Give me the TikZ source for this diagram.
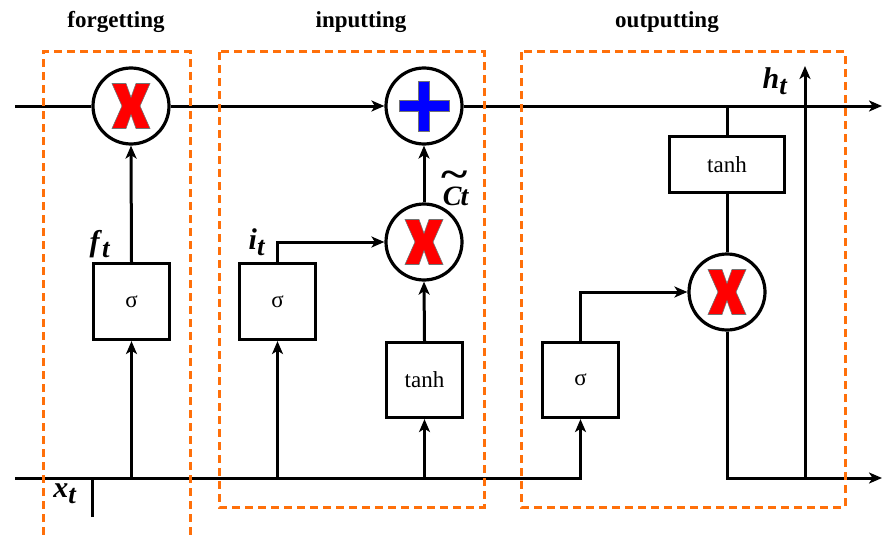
\documentclass[tikz,border=0pt]{standalone}
\usepackage{fontspec}
\setmainfont{Liberation Serif}
\usetikzlibrary{arrows.meta}

\definecolor{gateframe}{RGB}{255,112,10}

% bold italic variable with a lowered index
\newcommand\symvar[2]{\textbf{\textit{#1}}\raisebox{-6pt}{\fontsize{27}{27}\selectfont\textbf{\textit{#2}}}}

\begin{document}
\begin{tikzpicture}[
  x=1pt, y=-1pt,
  wire/.style={line width=3pt},
  arr/.style={wire, -{Stealth[length=13pt,width=11pt,inset=3.5pt]}},
  gate/.style={draw, line width=3.2pt, fill=white, inner sep=0pt,
    font=\fontsize{23}{23}\selectfont},
  opc/.style={circle, draw, line width=3.2pt, fill=white,
    minimum size=76pt, inner sep=0pt},
  mulop/.style={opc, path picture={
    \filldraw[fill=red, draw=black!55, line width=0.6pt,
      shift={(path picture bounding box.center)}]
      (-19,-22.5) -- (-5,-22.5) -- (0,-8.5) -- (5,-22.5) -- (19,-22.5)
      -- (9,0) -- (19,22.5) -- (5,22.5) -- (0,8.5) -- (-5,22.5)
      -- (-19,22.5) -- (-9,0) -- cycle;}},
  addop/.style={opc, path picture={
    \filldraw[fill=blue, draw=black!55, line width=0.6pt,
      shift={(path picture bounding box.center)}]
      (-5.5,-25) -- (5.5,-25) -- (5.5,-5.5) -- (25,-5.5) -- (25,5.5)
      -- (5.5,5.5) -- (5.5,25) -- (-5.5,25) -- (-5.5,5.5) -- (-25,5.5)
      -- (-25,-5.5) -- (-5.5,-5.5) -- cycle;}},
  frame/.style={draw=gateframe, line width=3pt, dash pattern=on 8pt off 5pt},
  title/.style={font=\fontsize{23}{23}\selectfont\bfseries, inner sep=0pt},
  varlab/.style={font=\fontsize{30}{30}\selectfont, inner sep=0pt}
]
\useasboundingbox (0,0) rectangle (883,535);

% operators
\node[mulop] (fmul) at (131,106) {};
\node[addop] (add)  at (424,106) {};
\node[mulop] (imul) at (424,242) {};
\node[mulop] (omul) at (727,292) {};

% gates
\node[gate, minimum width=76pt, minimum height=76pt] (fsig)  at (131.5,301.5) {σ};
\node[gate, minimum width=76pt, minimum height=76pt] (isig)  at (277.5,301.5) {σ};
\node[gate, minimum width=76pt, minimum height=75pt] (itanh) at (424.5,380) {tanh};
\node[gate, minimum width=76pt, minimum height=75pt] (osig)  at (580.5,380) {σ};
\node[gate, minimum width=115pt, minimum height=56pt] (otanh) at (727,164.5) {tanh};

% free ends of the wires
\coordinate (cin)   at (15,106);
\coordinate (cout)  at (882,106);
\coordinate (xin)   at (15,478);
\coordinate (xtick) at (92,517);
\coordinate (hout)  at (882,478);
\coordinate (htop)  at (805,66);

% cell state line
\draw[wire] (cin) -- (fmul.west);
\draw[arr] (fmul.east) -- (add.west);
\draw[arr] (add.east) -- (cout);

% input line and its branches
\draw[arr] (xin) -| (osig.south);
\draw[wire] (xtick) -- (xtick |- xin);
\draw[arr] (fsig.south |- xin) -- (fsig.south);
\draw[arr] (isig.south |- xin) -- (isig.south);
\draw[arr] (itanh.south |- xin) -- (itanh.south);

% gate outputs
\draw[arr] (fsig.north) -- (fmul.south);
\draw[arr] (isig.north) |- (imul.west);
\draw[arr] (itanh.north) -- (imul.south);
\draw[arr] (imul.north) -- (add.south);
\draw[arr] (osig.north) |- (omul.west);
\draw[wire] (otanh.north |- cin) -- (otanh.north);
\draw[wire] (otanh.south) -- (omul.north);
\draw[arr] (omul.south) |- (hout);
\draw[arr] (htop |- hout) -- (htop);

% labels
\node[varlab] (lf) at (100,244) {\symvar{f}{t}};
\node[varlab] (li) at (257,242) {\symvar{i}{t}};
\node[varlab] (lx) at (65,494) {\symvar{x}{t}};
\node[varlab] (lh) at (775,81) {\symvar{h}{t}};
\node[font=\fontsize{28}{28}\selectfont, inner sep=0pt] (lc) at (456,188)
  {\rlap{\raisebox{18pt}{\kern-1pt\textbf{\scalebox{1.8}[1.4]{\textasciitilde}}}}\textbf{\textit{C\kern-1pt t}}};

% titles
\node[title] (tf) at (116,22) {forgetting};
\node[title] (ti) at (361,22) {inputting};
\node[title] (to) at (667,22) {outputting};

% stage frames
\draw[frame] (43,535) -- (43,52) -- (190,52) -- (190,535);
\draw[frame] (219,52) rectangle (484,507);
\draw[frame] (521,52) rectangle (845,507);
\end{tikzpicture}
\end{document}
